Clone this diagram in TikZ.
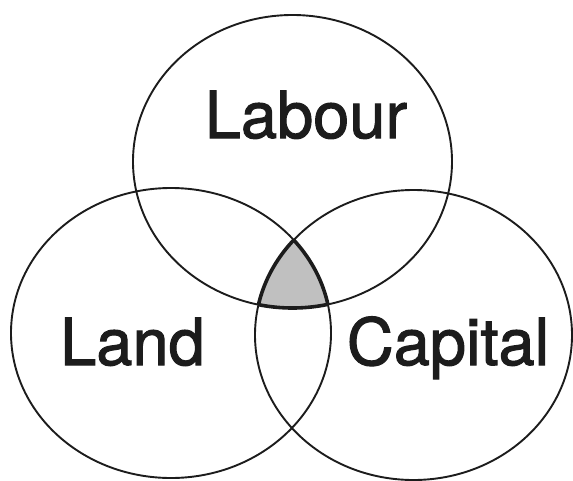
\documentclass[tikz,border=0pt]{standalone}
\usepackage{fontspec}
\setmainfont{TeX Gyre Heros}
\newfontfamily\lblfont[FakeBold=1.6]{TeX Gyre Heros}
\definecolor{ink}{HTML}{1C1C1C}
\definecolor{coregray}{HTML}{C0C0C0}
\tikzset{
  circ/.style={draw=ink, line width=1.9pt},
  core/.style={draw=ink, line width=3.6pt},
  lbl/.style={anchor=base, inner sep=0pt, text=ink, font=\lblfont\fontsize{65}{70}\selectfont}
}
\begin{document}
\begin{tikzpicture}[x=1pt,y=-1pt]
\useasboundingbox (0,0) rectangle (573,480);
% shaded triple intersection
\begin{scope}
  \clip (292.5,161.5) ellipse [x radius=159.5pt, y radius=146.5pt];
  \clip (171,333) ellipse [x radius=160pt, y radius=145pt];
  \fill[coregray] (413.5,335) ellipse [x radius=158.5pt, y radius=145pt];
\end{scope}
% circles
\path[circ] (292.5,161.5) ellipse [x radius=159.5pt, y radius=146.5pt];
\path[circ] (171,333) ellipse [x radius=160pt, y radius=145pt];
\path[circ] (413.5,335) ellipse [x radius=158.5pt, y radius=145pt];
% thick outline of the core
\begin{scope}
  \clip (171,333) ellipse [x radius=160pt, y radius=145pt];
  \clip (413.5,335) ellipse [x radius=158.5pt, y radius=145pt];
  \path[core] (292.5,161.5) ellipse [x radius=159.5pt, y radius=146.5pt];
\end{scope}
\begin{scope}
  \clip (292.5,161.5) ellipse [x radius=159.5pt, y radius=146.5pt];
  \clip (413.5,335) ellipse [x radius=158.5pt, y radius=145pt];
  \path[core] (171,333) ellipse [x radius=160pt, y radius=145pt];
\end{scope}
\begin{scope}
  \clip (292.5,161.5) ellipse [x radius=159.5pt, y radius=146.5pt];
  \clip (171,333) ellipse [x radius=160pt, y radius=145pt];
  \path[core] (413.5,335) ellipse [x radius=158.5pt, y radius=145pt];
\end{scope}
% labels
\node[lbl] (labour) at (306,138) {Labour};
\node[lbl] (land) at (132.5,365) {Land};
\node[lbl] (capital) at (448,365) {Capital};
\end{tikzpicture}
\end{document}
